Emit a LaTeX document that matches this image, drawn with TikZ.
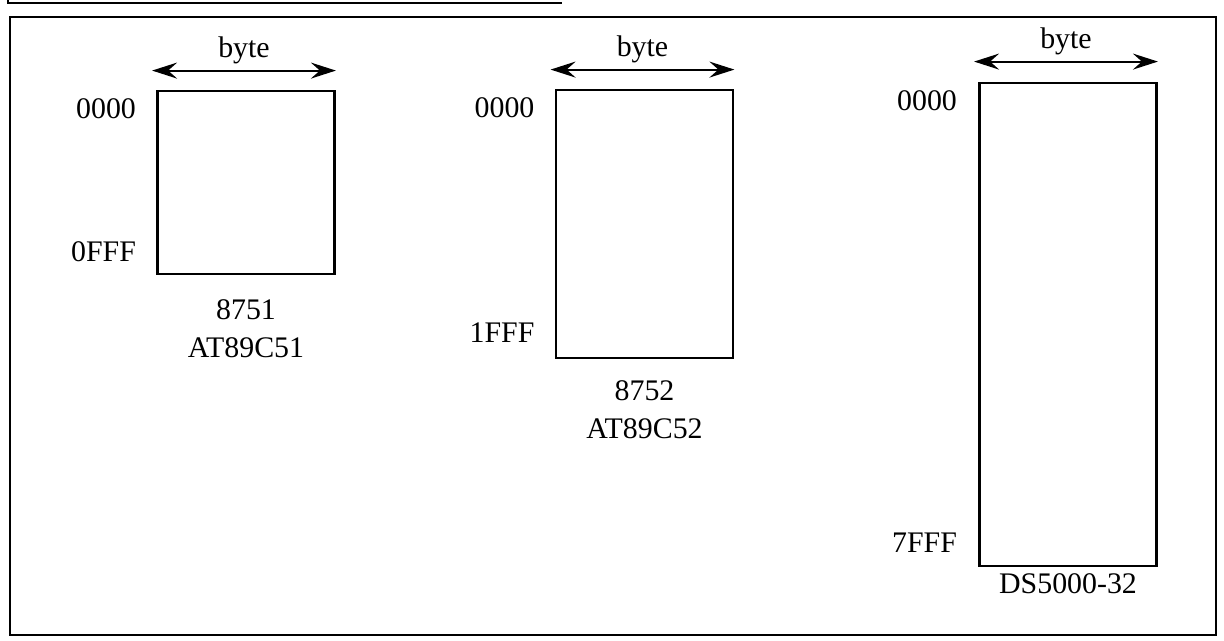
\documentclass[tikz,border=0pt]{standalone}
\usepackage{fontspec}
\setmainfont{Liberation Serif}
\usetikzlibrary{arrows.meta,positioning}

\begin{document}
\begin{tikzpicture}[every node/.style={font=\fontsize{17}{21.5}\selectfont},
  mem/.style={draw,line width=1.6pt,minimum width=3.54cm,inner sep=0pt},
  dim/.style={{Stealth[length=5mm,width=3.2mm,inset=1.8mm]}-{Stealth[length=5mm,width=3.2mm,inset=1.8mm]},line width=1.2pt},
  addr/.style={anchor=east}]
\useasboundingbox (0,0) rectangle (24.48,12.82);
% frame
\draw[line width=1.6pt] (0.2,0.12) rectangle (24.32,12.48);
\draw[line width=1.4pt] (0.16,12.82) |- (11.24,12.76);
% program memories
\node[mem,minimum height=3.66cm] (m1) at (4.92,9.17) {};
\node[mem,minimum height=5.36cm] (m2) at (12.89,8.34) {};
\node[mem,minimum height=9.66cm] (m3) at (21.36,6.33) {};
% byte width
\draw[dim] ([xshift=-0.08cm,yshift=0.38cm]m1.north west) -- ([yshift=0.38cm]m1.north east) node[midway,above] (w1) {byte};
\draw[dim] ([xshift=-0.08cm,yshift=0.38cm]m2.north west) -- ([yshift=0.38cm]m2.north east) node[midway,above] (w2) {byte};
\draw[dim] ([xshift=-0.08cm,yshift=0.40cm]m3.north west) -- ([yshift=0.40cm]m3.north east) node[midway,above] (w3) {byte};
% addresses
\node[addr] (m1lo) at ([xshift=-0.28cm,yshift=-0.38cm]m1.north west) {0000};
\node[addr] (m1hi) at ([xshift=-0.28cm,yshift=0.48cm]m1.south west) {0FFF};
\node[addr] (m2lo) at ([xshift=-0.28cm,yshift=-0.38cm]m2.north west) {0000};
\node[addr] (m2hi) at ([xshift=-0.28cm,yshift=0.54cm]m2.south west) {1FFF};
\node[addr] (m3lo) at ([xshift=-0.30cm,yshift=-0.38cm]m3.north west) {0000};
\node[addr] (m3hi) at ([xshift=-0.30cm,yshift=0.50cm]m3.south west) {7FFF};
% chips
\node[below=0.36cm of m1,align=center] (m1name) {8751\\AT89C51};
\node[below=0.30cm of m2,align=center] (m2name) {8752\\AT89C52};
\node[below=0cm of m3] (m3name) {DS5000-32};
\end{tikzpicture}
\end{document}
